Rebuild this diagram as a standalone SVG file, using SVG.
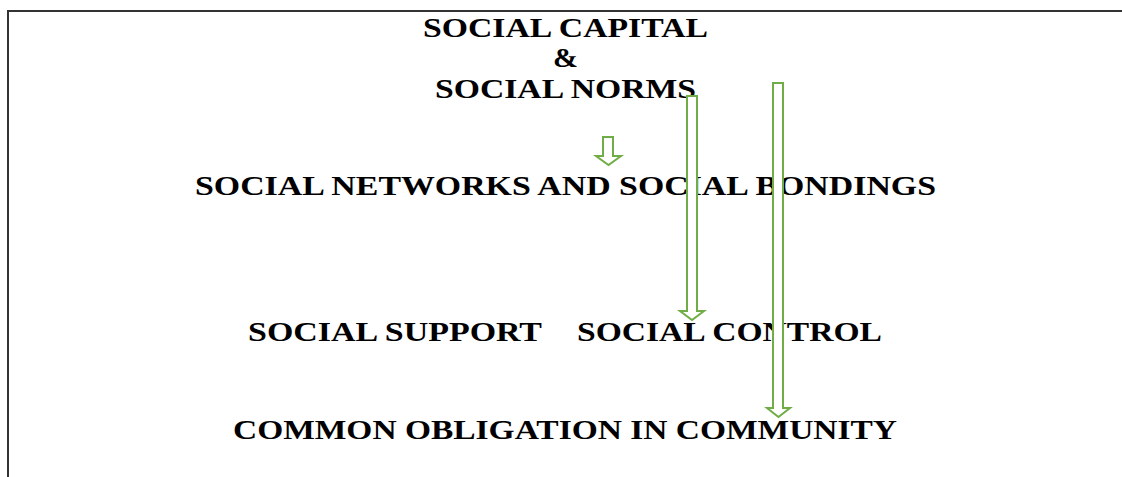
<svg xmlns="http://www.w3.org/2000/svg" width="1122" height="477" viewBox="0 0 1122 477">
<style>
.t{font-family:"Liberation Serif","Times New Roman",serif;font-weight:bold;font-size:28px;fill:#000}
.arr{fill:#fff;stroke:#70ad47;stroke-width:2;stroke-linejoin:miter}
.frame{fill:none;stroke:#333;stroke-width:2}
</style>
<rect width="1122" height="477" fill="#fff"/>
<path class="frame" d="M8,477 V11 H1122"/>
<g id="social-capital-norms">
<text class="t" x="423" y="37" textLength="285" lengthAdjust="spacingAndGlyphs">SOCIAL CAPITAL</text>
<text class="t" x="553" y="67" textLength="25" lengthAdjust="spacingAndGlyphs">&amp;</text>
<text class="t" x="435" y="98" textLength="261" lengthAdjust="spacingAndGlyphs">SOCIAL NORMS</text>
</g>
<g id="social-networks">
<text class="t" x="195" y="195" textLength="741" lengthAdjust="spacingAndGlyphs">SOCIAL NETWORKS AND SOCIAL BONDINGS</text>
</g>
<g id="social-support">
<text class="t" x="248" y="341" textLength="294" lengthAdjust="spacingAndGlyphs">SOCIAL SUPPORT</text>
</g>
<g id="social-control">
<text class="t" x="577" y="341" textLength="305" lengthAdjust="spacingAndGlyphs">SOCIAL CONTROL</text>
</g>
<g id="common-obligation">
<text class="t" x="233" y="439" textLength="664" lengthAdjust="spacingAndGlyphs">COMMON OBLIGATION IN COMMUNITY</text>
</g>
<g id="connectors">
<path class="arr" d="M603,137 H613 V156 H621 L608.5,165 L596,156 H603 Z"/>
<path class="arr" d="M687,96 H697 V311 H704 L692,320 L680,311 H687 Z"/>
<path class="arr" d="M773,83 H783 V408 H790 L778.5,417 L767,408 H773 Z"/>
</g>
</svg>
